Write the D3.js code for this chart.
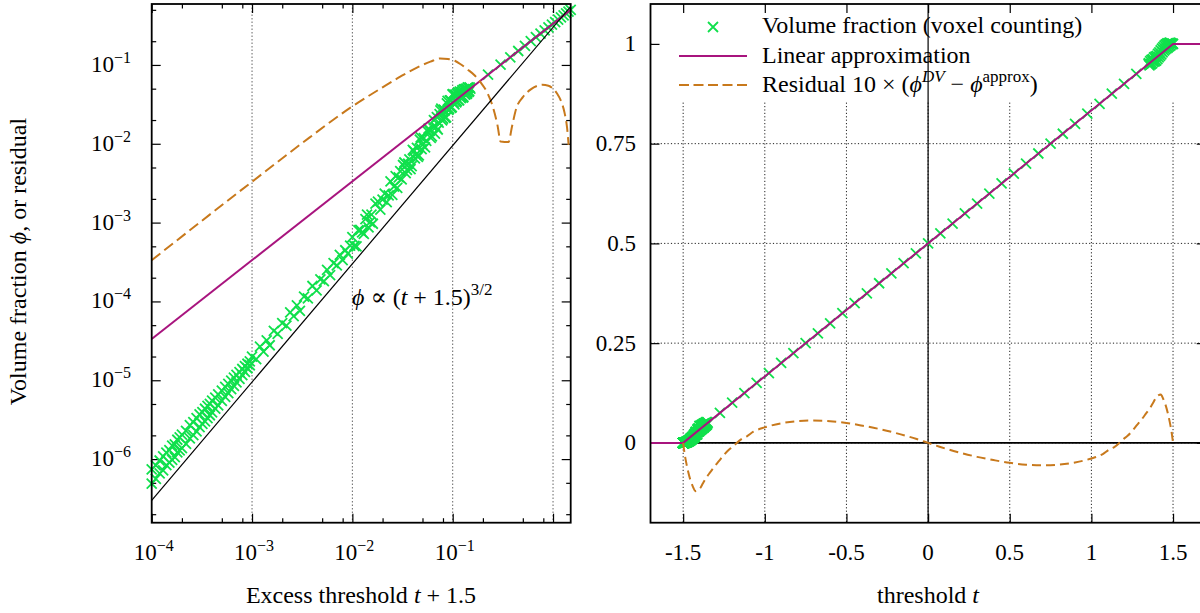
<!DOCTYPE html>
<html><head><meta charset="utf-8">
<script src="https://cdn.jsdelivr.net/npm/d3@7"></script>
<style>
html,body{margin:0;padding:0;background:#fff;overflow:hidden}
svg{display:block;font-family:"Liberation Serif","DejaVu Serif","Times New Roman",serif}
</style></head><body>
<svg id="chart" width="1200" height="613"></svg>
<script>
// ---------------- DATA ----------------
// axis domains
const leftXDomain = [1e-4, 1.5];
const leftYDomain = [1.56e-7, 0.593];
const rightXDomain = [-1.7, 1.7];
const rightYDomain = [-0.2, 1.1];

// tick definitions
const leftXMajor = [1e-4, 1e-3, 1e-2, 1e-1, 1];
const leftXLabelExp = [-4, -3, -2, -1];
const leftXMinorMult = [2, 5, 8];
const leftYMajorExp = [-6, -5, -4, -3, -2, -1];
const leftYMinorMult = [2, 5];
const leftGridX = [1e-3, 1e-2, 1e-1, 1];
const rightXTicks = [-1.5, -1, -0.5, 0, 0.5, 1, 1.5];
const rightXLabels = ["-1.5", "-1", "-0.5", "0", "0.5", "1", "1.5"];
const rightYTicks = [0, 0.25, 0.5, 0.75, 1];
const rightYLabels = ["0", "0.25", "0.5", "0.75", "1"];

// Volume fraction (voxel counting): dense sampling just above t = -1.5, given as excess t+1.5
const lowExcess = [
  1.0e-4,1.0e-4,1.1e-4,1.1e-4,1.2e-4,1.2e-4,1.3e-4,1.3e-4,1.4e-4,1.4e-4,1.5e-4,1.5e-4,
  1.6e-4,1.6e-4,1.7e-4,1.7e-4,1.8e-4,1.8e-4,1.9e-4,1.9e-4,2.0e-4,2.0e-4,2.2e-4,2.2e-4,
  2.4e-4,2.4e-4,2.6e-4,2.6e-4,2.8e-4,2.8e-4,3.0e-4,3.0e-4,3.2e-4,3.2e-4,3.4e-4,3.4e-4,
  3.6e-4,3.6e-4,3.8e-4,3.8e-4,4.0e-4,4.0e-4,4.3e-4,4.3e-4,4.6e-4,4.6e-4,5.0e-4,5.0e-4,
  5.4e-4,5.4e-4,5.8e-4,5.8e-4,6.2e-4,6.2e-4,6.6e-4,6.6e-4,7.0e-4,7.0e-4,7.5e-4,7.5e-4,
  8.0e-4,8.0e-4,8.5e-4,8.5e-4,9.0e-4,9.0e-4,9.5e-4,9.5e-4,
  1.0e-3,1.1e-3,1.2e-3,1.3e-3,1.4e-3,1.5e-3,1.65e-3,1.8e-3,2.0e-3,2.2e-3,2.4e-3,2.6e-3,
  2.8e-3,3.0e-3,3.3e-3,3.6e-3,4.0e-3,4.4e-3,4.8e-3,5.2e-3,5.6e-3,6.0e-3,6.5e-3,7.0e-3,
  7.5e-3,8.0e-3,8.5e-3,9.0e-3,9.5e-3,
  0.010,0.011,0.012,0.013,0.014,0.015,0.016,0.018,0.020,0.022,0.024,0.026,0.028,0.030,
  0.032,0.034,0.036,0.038,0.040,0.042,0.044,0.046,0.048,0.050,0.053,0.056,0.059,0.062,
  0.065,0.068,0.071,0.074,0.077,0.080,0.083,0.086,0.089,0.092,0.095,0.098,0.101,0.104,
  0.107,0.110,0.113,0.116,0.119,0.122,0.125,0.128,0.131,0.134,0.137,0.140,0.143,0.146
];
const lowPhi = [
  7.4e-7,4.9e-7,5.6e-7,8.3e-7,9.6e-7,6.6e-7,7.2e-7,1.08e-6,1.21e-6,8.4e-7,9.0e-7,1.30e-6,
  1.48e-6,9.8e-7,1.06e-6,1.54e-6,1.76e-6,1.22e-6,1.29e-6,1.89e-6,2.05e-6,1.38e-6,1.56e-6,2.28e-6,
  2.69e-6,1.83e-6,2.02e-6,2.95e-6,3.30e-6,2.24e-6,2.55e-6,3.68e-6,3.94e-6,2.80e-6,3.01e-6,4.35e-6,
  4.72e-6,3.32e-6,3.60e-6,5.01e-6,5.50e-6,3.92e-6,4.36e-6,6.01e-6,6.63e-6,4.80e-6,5.49e-6,7.40e-6,
  8.25e-6,6.17e-6,6.89e-6,9.02e-6,9.91e-6,7.70e-6,8.50e-6,1.08e-5,1.17e-5,9.40e-6,1.04e-5,1.27e-5,
  1.39e-5,1.16e-5,1.28e-5,1.51e-5,1.62e-5,1.42e-5,1.55e-5,1.74e-5,
  1.99e-5,1.85e-5,2.68e-5,2.31e-5,3.21e-5,2.78e-5,4.24e-5,3.88e-5,5.32e-5,4.94e-5,7.28e-5,6.53e-5,
  8.89e-5,7.61e-5,1.15e-4,1.09e-4,1.57e-4,1.38e-4,1.90e-4,1.81e-4,2.51e-4,2.16e-4,3.06e-4,2.87e-4,
  3.89e-4,3.34e-4,4.46e-4,4.05e-4,5.10e-4,
  6.56e-4,5.00e-4,8.06e-4,7.21e-4,1.264e-3,1.015e-3,9.67e-4,1.85e-3,1.96e-3,1.82e-3,3.34e-3,2.87e-3,2.76e-3,4.51e-3,
  5.38e-3,4.24e-3,5.58e-3,4.77e-3,8.37e-3,6.53e-3,8.85e-3,7.11e-3,1.204e-2,9.68e-3,9.00e-3,1.449e-2,1.459e-2,1.243e-2,
  2.00e-2,1.629e-2,1.517e-2,2.373e-2,2.794e-2,2.077e-2,2.625e-2,2.155e-2,3.499e-2,2.773e-2,3.554e-2,2.907e-2,4.266e-2,3.156e-2,
  4.211e-2,3.465e-2,4.492e-2,3.546e-2,4.521e-2,3.864e-2,4.805e-2,3.942e-2,4.917e-2,4.232e-2,5.011e-2,4.446e-2,5.099e-2,4.655e-2
];
// second set of dense thresholds (interleaved) near t = -1.5
const lowExcessB = [
  0.0105,0.0115,0.0125,0.0135,0.0145,0.0155,0.017,0.019,0.021,0.023,0.025,0.027,0.029,0.031,
  0.033,0.035,0.037,0.039,0.041,0.043,0.045,0.047,0.049,0.0515,0.0545,0.0575,0.0605,0.0635,
  0.0665,0.0695,0.0725,0.0755,0.0785,0.0815,0.0845,0.0875,0.0905,0.0935,0.0965,0.0995,0.1025,0.1055,
  0.1085,0.1115,0.1145,0.1175,0.1205,0.1235,0.1265,0.1295,0.1325,0.1355,0.1385,0.1415,0.1445,0.1475
];
const lowPhiB = [
  5.05e-4,8.0e-4,7.51e-4,1.109e-3,8.70e-4,1.265e-3,1.746e-3,1.461e-3,2.327e-3,2.218e-3,2.246e-3,3.878e-3,3.758e-3,3.539e-3,
  5.787e-3,4.678e-3,6.329e-3,5.196e-3,8.055e-3,7.272e-3,6.833e-3,1.132e-2,8.564e-3,1.18e-2,1.087e-2,1.56e-2,1.189e-2,1.639e-2,
  1.346e-2,2.171e-2,1.852e-2,2.653e-2,1.983e-2,2.71e-2,2.139e-2,3.253e-2,2.691e-2,3.547e-2,2.86e-2,4.22e-2,3.335e-2,4.161e-2,
  3.348e-2,4.283e-2,3.585e-2,4.6e-2,3.786e-2,4.588e-2,3.858e-2,4.908e-2,4.193e-2,4.918e-2,4.307e-2,5.198e-2,4.563e-2,5.187e-2
];
// regular thresholds
const gridT = [-1.35,-1.275,-1.2,-1.125,-1.05,-0.975,-0.9,-0.825,-0.75,-0.675,-0.6,-0.525,-0.45,-0.375,-0.3,-0.225,-0.15,-0.075,0,
  0.075,0.15,0.225,0.3,0.375,0.45,0.525,0.6,0.675,0.75,0.825,0.9,0.975,1.05,1.125,1.2,1.275,1.35];
const gridPhi = [0.0502,0.0755,0.1008,0.1247,0.1503,0.1751,0.2004,0.2252,0.2499,0.2747,0.2998,0.3251,0.3502,0.3748,0.4001,0.4249,0.4503,0.4752,0.5,
  0.5249,0.5497,0.5752,0.5999,0.6248,0.6502,0.6749,0.6997,0.7253,0.7501,0.7748,0.7998,0.8252,0.8497,0.8753,0.8996,0.9248,0.9495];
// dense sampling just below t = +1.5
const highT = [1.352,1.356,1.36,1.364,1.368,1.372,1.376,1.38,1.384,1.388,1.392,1.396,1.4,1.404,1.408,1.412,1.416,1.42,1.424,1.428,
  1.432,1.436,1.44,1.444,1.448,1.452,1.456,1.46,1.464,1.468,1.472,1.476,1.48,1.484,1.488,1.492,1.495,1.498,1.4995];
const highPhi = [0.952,0.946,0.957,0.949,0.960,0.951,0.962,0.955,0.966,0.956,0.968,0.958,0.970,0.962,0.975,0.966,0.979,0.970,0.984,0.974,
  0.988,0.979,0.992,0.983,0.996,0.986,0.999,0.989,1.001,0.991,1.002,0.994,1.003,0.996,1.002,0.9996,0.9998,0.9999,1.0];

// Linear approximation
const approxT = [-1.7, -1.5, 1.5, 1.7];
const approxPhi = [0, 0, 1, 1];
const approxExcess = [1e-4, 1.5];
const approxExcessPhi = [3.333e-5, 0.5];

// power law phi ∝ (t+1.5)^{3/2}
const powerExcess = [1e-4, 1.5];
const powerPhi = [3.0e-7, 0.551];

// Residual 10 × (phi^DV − phi^approx)
const residT = [-1.5,-1.4999,-1.4997,-1.499,-1.497,-1.49,-1.48,-1.47,-1.455,-1.44,-1.425,-1.41,-1.395,-1.38,-1.36,-1.335,-1.31,
  -1.28,-1.25,-1.22,-1.2,-1.14,-1.11,-1.07,-1.0,-0.9,-0.8,-0.72,-0.6,-0.5,-0.4,-0.3,-0.2,-0.12,-0.07,0,
  0.07,0.12,0.2,0.3,0.4,0.5,0.6,0.72,0.8,0.9,1.0,1.07,1.11,1.14,1.2,1.22,1.25,1.28,1.31,1.335,1.36,1.38,1.395,1.41,1.425,
  1.44,1.455,1.47,1.48,1.49,1.497,1.499,1.4997,1.4999,1.5];
const residV = [0,-0.000333,-0.001,-0.0033,-0.0097,-0.0298,-0.052,-0.071,-0.094,-0.110,-0.121,-0.119,-0.113,-0.102,-0.088,-0.074,-0.060,
  -0.045,-0.030,-0.017,-0.0107,0.0105,0.0166,0.0280,0.0390,0.0490,0.0545,0.0560,0.0545,0.0500,0.0430,0.0350,0.0250,0.0160,0.0097,0,
  -0.0097,-0.0160,-0.0250,-0.0350,-0.0430,-0.0500,-0.0545,-0.0560,-0.0545,-0.0490,-0.0390,-0.0280,-0.0166,-0.0105,0.0107,0.017,0.030,
  0.045,0.060,0.074,0.088,0.102,0.113,0.119,0.121,0.110,0.094,0.071,0.052,0.0298,0.0097,0.0033,0.001,0.000333,0];

// ---------------- DRAWING ----------------
const svg = d3.select("#chart");
const GREEN = "#10e04c", MAGENTA = "#a8147e", ORANGE = "#c8791c";
const TICKFS = 23, SUPFS = 16, LABFS = 24;

const points = [
  ...lowExcess.map((x, i) => ({t: x - 1.5, x: x, phi: lowPhi[i]})),
  ...lowExcessB.map((x, i) => ({t: x - 1.5, x: x, phi: lowPhiB[i]})),
  ...gridT.map((t, i) => ({t: t, x: t + 1.5, phi: gridPhi[i]})),
  ...highT.map((t, i) => ({t: t, x: t + 1.5, phi: highPhi[i]}))
];
const resid = residT.map((t, i) => ({t: t, x: t + 1.5, r: residV[i]}));
const crossPath = "M-5,-5L5,5M-5,5L5,-5";

const defs = svg.append("defs");
function clip(id, p) {
  defs.append("clipPath").attr("id", id).append("rect")
    .attr("x", p.l).attr("y", p.t).attr("width", p.r - p.l).attr("height", p.b - p.t);
}
function tickAxis(parent, axis, values, size, tx, ty) {
  const g = parent.append("g").attr("transform", `translate(${tx},${ty})`)
    .call(axis.tickValues(values).tickSize(size).tickFormat(() => ""));
  g.select(".domain").remove();
  g.selectAll(".tick text").remove();
  g.selectAll(".tick line").attr("stroke", "#000").attr("stroke-width", 1.2);
}

// ===== Left panel =====
const LP = {l: 151.7, r: 570.7, t: 4, b: 522.7};
const xL = d3.scaleLog().domain(leftXDomain).range([LP.l, LP.r]);
const yL = d3.scaleLog().domain(leftYDomain).range([LP.b, LP.t]);
clip("clipL", LP);
const gL = svg.append("g");

gL.append("g").selectAll("line").data(leftGridX).join("line")
  .attr("x1", d => xL(d)).attr("x2", d => xL(d)).attr("y1", LP.t).attr("y2", LP.b)
  .attr("stroke", "#666").attr("stroke-width", 1).attr("stroke-dasharray", "1.5,2");

const leftXMinor = [];
leftXMajor.forEach(d => leftXMinorMult.forEach(m => { const v = d * m; if (v <= leftXDomain[1]) leftXMinor.push(v); }));
const leftYMajor = leftYMajorExp.map(e => Math.pow(10, e));
const leftYMinor = [];
[-7, ...leftYMajorExp].forEach(e => leftYMinorMult.forEach(m => {
  const v = m * Math.pow(10, e); if (v >= leftYDomain[0] && v <= leftYDomain[1]) leftYMinor.push(v); }));

tickAxis(gL, d3.axisBottom(xL), leftXMajor, -9, 0, LP.b);
tickAxis(gL, d3.axisBottom(xL), leftXMinor, -4.5, 0, LP.b);
tickAxis(gL, d3.axisTop(xL), leftXMajor, -9, 0, LP.t);
tickAxis(gL, d3.axisTop(xL), leftXMinor, -4.5, 0, LP.t);
tickAxis(gL, d3.axisLeft(yL), leftYMajor, -9, LP.l, 0);
tickAxis(gL, d3.axisLeft(yL), leftYMinor, -4.5, LP.l, 0);
tickAxis(gL, d3.axisRight(yL), leftYMajor, -9, LP.r, 0);
tickAxis(gL, d3.axisRight(yL), leftYMinor, -4.5, LP.r, 0);

// tick labels
leftYMajorExp.forEach(e => {
  const tx = gL.append("text").attr("x", 131).attr("y", yL(Math.pow(10, e)) + 7)
    .attr("text-anchor", "end").attr("font-size", TICKFS);
  tx.append("tspan").text("10");
  tx.append("tspan").attr("font-size", SUPFS).attr("dy", -9).text("\u2212" + Math.abs(e));
});
leftXLabelExp.forEach(e => {
  const tx = gL.append("text").attr("x", xL(Math.pow(10, e)) + 2).attr("y", 560)
    .attr("text-anchor", "middle").attr("font-size", TICKFS);
  tx.append("tspan").text("10");
  tx.append("tspan").attr("font-size", SUPFS).attr("dy", -9).text("\u2212" + Math.abs(e));
});

// data
const leftPts = points.filter(p => p.x >= leftXDomain[0] - 1e-12 && p.x <= leftXDomain[1] + 1e-9);
gL.append("g").selectAll("path").data(leftPts).join("path")
  .attr("transform", p => `translate(${xL(p.x)},${yL(p.phi)})`)
  .attr("d", crossPath).attr("stroke", GREEN).attr("stroke-width", 1.8).attr("fill", "none");

const lineLApprox = d3.line().x((d, i) => xL(d)).y((d, i) => yL(approxExcessPhi[i]));
gL.append("path").attr("clip-path", "url(#clipL)").attr("d", lineLApprox(approxExcess))
  .attr("fill", "none").attr("stroke", MAGENTA).attr("stroke-width", 2);

const residLeft = resid.filter(d => d.x > 0 && d.r !== 0 && d.x <= leftXDomain[1]);
gL.append("path").attr("clip-path", "url(#clipL)")
  .attr("d", d3.line().x(d => xL(d.x)).y(d => yL(Math.abs(d.r))).curve(d3.curveMonotoneX)(residLeft))
  .attr("fill", "none").attr("stroke", ORANGE).attr("stroke-width", 2).attr("stroke-dasharray", "11,5");

const linePow = d3.line().x(d => xL(d)).y((d, i) => yL(powerPhi[i]));
gL.append("path").attr("clip-path", "url(#clipL)").attr("d", linePow(powerExcess))
  .attr("fill", "none").attr("stroke", "#000").attr("stroke-width", 1.2);

// frame
gL.append("rect").attr("x", LP.l).attr("y", LP.t).attr("width", LP.r - LP.l).attr("height", LP.b - LP.t)
  .attr("fill", "none").attr("stroke", "#000").attr("stroke-width", 1.8);

// annotation
const ann = gL.append("text").attr("x", 352).attr("y", 305).attr("font-size", LABFS);
ann.append("tspan").attr("font-style", "italic").text("\u03D5");
ann.append("tspan").text(" \u221D (");
ann.append("tspan").attr("font-style", "italic").text("t");
ann.append("tspan").text(" + 1.5)");
ann.append("tspan").attr("font-size", 17).attr("dy", -10).text("3/2");

// axis titles
const xtL = gL.append("text").attr("x", 361).attr("y", 603).attr("text-anchor", "middle").attr("font-size", LABFS);
xtL.append("tspan").text("Excess threshold ");
xtL.append("tspan").attr("font-style", "italic").text("t");
xtL.append("tspan").text(" + 1.5");

const ytL = gL.append("text").attr("transform", "translate(26,261.5) rotate(-90)")
  .attr("text-anchor", "middle").attr("font-size", LABFS);
ytL.append("tspan").text("Volume fraction ");
ytL.append("tspan").attr("font-style", "italic").text("\u03D5");
ytL.append("tspan").text(", or residual");

// ===== Right panel =====
const RP = {l: 650.5, r: 1205.7, t: 4, b: 522.7};
const xR = d3.scaleLinear().domain(rightXDomain).range([RP.l, RP.r]);
const yR = d3.scaleLinear().domain(rightYDomain).range([RP.b, RP.t]);
clip("clipR", RP);
const gR = svg.append("g");

gR.append("g").selectAll("line").data(rightXTicks).join("line")
  .attr("x1", d => xR(d)).attr("x2", d => xR(d)).attr("y1", RP.t).attr("y2", RP.b)
  .attr("stroke", "#222").attr("stroke-width", 1).attr("stroke-dasharray", "1.2,2.2");
gR.append("g").selectAll("line").data(rightYTicks).join("line")
  .attr("x1", RP.l).attr("x2", RP.r).attr("y1", d => yR(d)).attr("y2", d => yR(d))
  .attr("stroke", "#222").attr("stroke-width", 1).attr("stroke-dasharray", "1.2,2.2");

// opaque legend box
gR.append("rect").attr("x", RP.l + 1).attr("y", RP.t + 1).attr("width", RP.r - RP.l).attr("height", 96).attr("fill", "#fff");

// legend
gR.append("path").attr("transform", "translate(713,27)").attr("d", crossPath)
  .attr("stroke", GREEN).attr("stroke-width", 1.8).attr("fill", "none");
gR.append("line").attr("x1", 679).attr("x2", 747).attr("y1", 56).attr("y2", 56)
  .attr("stroke", MAGENTA).attr("stroke-width", 2);
gR.append("line").attr("x1", 679).attr("x2", 747).attr("y1", 85).attr("y2", 85)
  .attr("stroke", ORANGE).attr("stroke-width", 2).attr("stroke-dasharray", "10,4.5");
gR.append("text").attr("x", 762).attr("y", 33).attr("font-size", LABFS).text("Volume fraction (voxel counting)");
gR.append("text").attr("x", 762).attr("y", 63).attr("font-size", LABFS).text("Linear approximation");
const lg3 = gR.append("text").attr("x", 762).attr("y", 92).attr("font-size", LABFS);
lg3.append("tspan").text("Residual 10 \u00D7 (");
lg3.append("tspan").attr("font-style", "italic").text("\u03D5");
lg3.append("tspan").attr("font-style", "italic").attr("font-size", 17).attr("dy", -10).text("DV");
lg3.append("tspan").attr("dy", 10).text(" \u2212 ");
lg3.append("tspan").attr("font-style", "italic").text("\u03D5");
lg3.append("tspan").attr("font-size", 17).attr("dy", -10).text("approx");
lg3.append("tspan").attr("dy", 10).text(")");

// zero axes
gR.append("line").attr("x1", RP.l).attr("x2", RP.r).attr("y1", yR(0)).attr("y2", yR(0))
  .attr("stroke", "#000").attr("stroke-width", 1.8);
gR.append("line").attr("x1", xR(0)).attr("x2", xR(0)).attr("y1", RP.t).attr("y2", RP.b)
  .attr("stroke", "#000").attr("stroke-width", 1.2);

tickAxis(gR, d3.axisBottom(xR), rightXTicks, -9, 0, RP.b);
tickAxis(gR, d3.axisTop(xR), rightXTicks, -9, 0, RP.t);
tickAxis(gR, d3.axisLeft(yR), rightYTicks, -9, RP.l, 0);
tickAxis(gR, d3.axisRight(yR), rightYTicks, -9, RP.r, 0);

rightXTicks.forEach((v, i) => gR.append("text").attr("x", xR(v)).attr("y", 560)
  .attr("text-anchor", "middle").attr("font-size", TICKFS).text(rightXLabels[i]));
rightYTicks.forEach((v, i) => gR.append("text").attr("x", 636).attr("y", yR(v) + 7.5)
  .attr("text-anchor", "end").attr("font-size", TICKFS).text(rightYLabels[i]));

// data
const rightPts = points.filter(p => p.t >= rightXDomain[0] && p.t <= rightXDomain[1]);
gR.append("g").selectAll("path").data(rightPts).join("path")
  .attr("transform", p => `translate(${xR(p.t)},${yR(p.phi)})`)
  .attr("d", crossPath).attr("stroke", GREEN).attr("stroke-width", 1.8).attr("fill", "none");

const lineRApprox = d3.line().x(d => xR(d)).y((d, i) => yR(approxPhi[i]));
gR.append("path").attr("clip-path", "url(#clipR)").attr("d", lineRApprox(approxT))
  .attr("fill", "none").attr("stroke", MAGENTA).attr("stroke-width", 2);

gR.append("path").attr("clip-path", "url(#clipR)")
  .attr("d", d3.line().x(d => xR(d.t)).y(d => yR(d.r)).curve(d3.curveMonotoneX)(resid))
  .attr("fill", "none").attr("stroke", ORANGE).attr("stroke-width", 2).attr("stroke-dasharray", "9,5");

gR.append("rect").attr("x", RP.l).attr("y", RP.t).attr("width", RP.r - RP.l).attr("height", RP.b - RP.t)
  .attr("fill", "none").attr("stroke", "#000").attr("stroke-width", 1.8);

const xtR = gR.append("text").attr("x", 928).attr("y", 603).attr("text-anchor", "middle").attr("font-size", LABFS);
xtR.append("tspan").text("threshold ");
xtR.append("tspan").attr("font-style", "italic").text("t");
</script></body></html>
